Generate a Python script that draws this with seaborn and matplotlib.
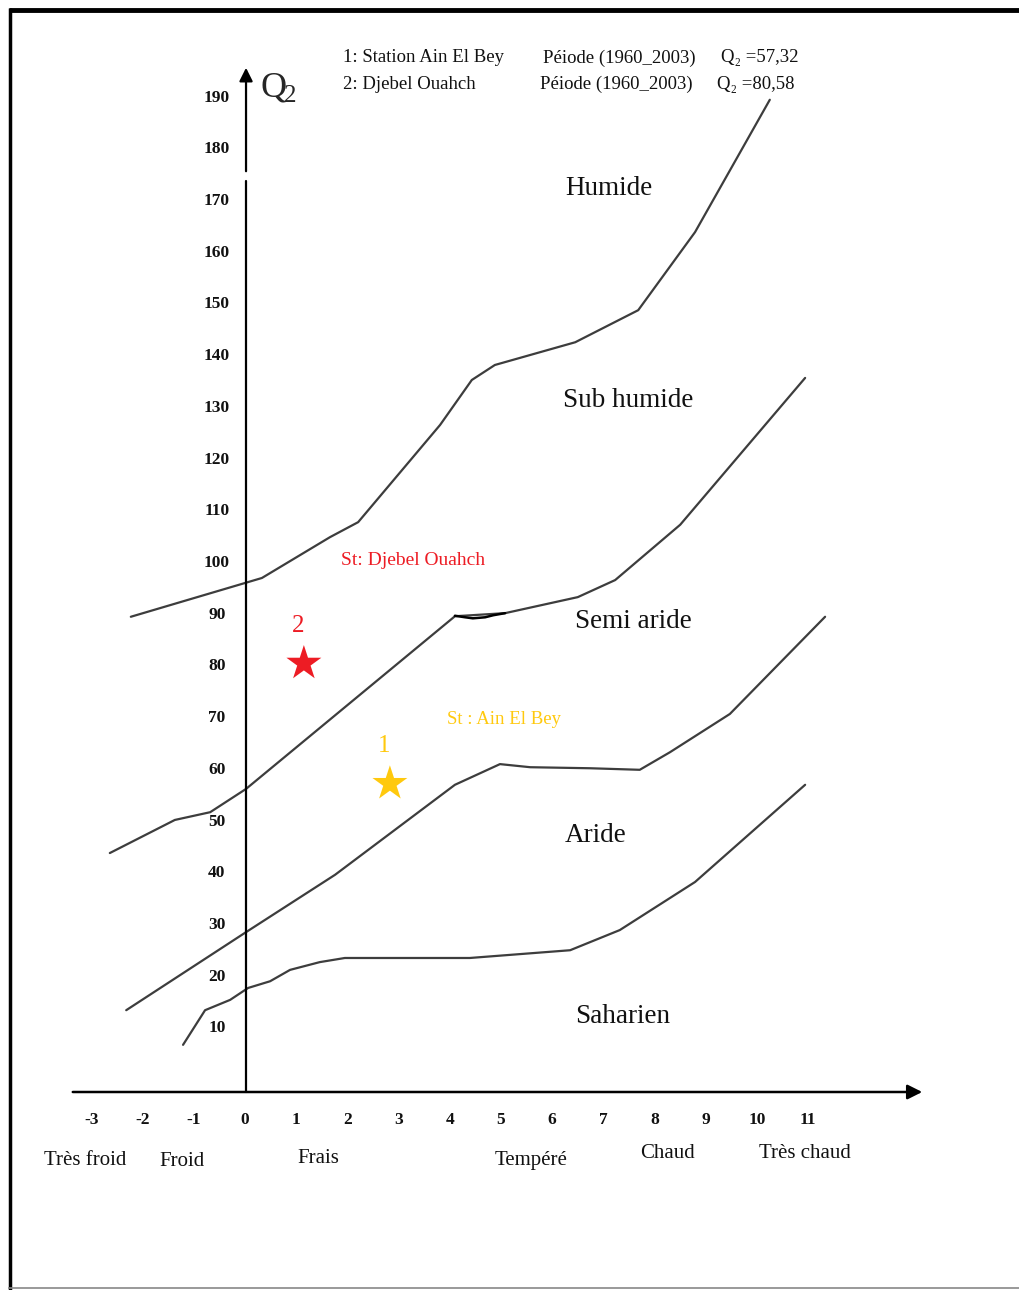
import matplotlib
matplotlib.use("Agg")
import matplotlib.pyplot as plt
from matplotlib.lines import Line2D
from matplotlib import font_manager
import pandas as pd
import seaborn as sns

# Climagramme d'Emberger : m (°C) en abscisse, Q2 en ordonnée
# Limites entre les étages bioclimatiques (m, Q2)
humide_m = [-2.23, 0.33, 1.66, 2.21, 3.81, 4.43, 4.88, 6.45, 7.68, 8.79, 10.25]
humide_q = [89.6, 97.1, 105.0, 107.9, 126.7, 135.4, 138.3, 142.7, 148.9, 164.0, 189.6]

subhumide_m = [-2.64, -1.37, -0.68, 0.02, 4.10, 5.08, 6.50, 7.23, 8.50, 10.94]
subhumide_q = [43.9, 50.3, 51.8, 56.3, 89.7, 90.3, 93.4, 96.7, 107.4, 135.8]

semiaride_m = [-2.32, 0.02, 1.76, 4.10, 4.98, 5.57, 6.74, 7.71, 8.30, 9.47, 11.33]
semiaride_q = [13.5, 28.6, 39.7, 57.1, 61.1, 60.5, 60.3, 60.0, 63.4, 70.8, 89.6]

aride_m = [-1.21, -0.78, -0.29, 0.06, 0.49, 0.88, 1.46, 1.95, 4.39, 6.35, 7.32, 8.79, 10.94]
aride_q = [6.8, 13.5, 15.5, 17.8, 19.1, 21.3, 22.8, 23.6, 23.6, 25.1, 29.0, 38.3, 57.1]

# Tronçon retracé à la main sur la limite subhumide
retouche_m = [4.10, 4.30, 4.45, 4.69, 4.85, 5.08]
retouche_q = [89.8, 89.5, 89.3, 89.5, 89.9, 90.3]

# Stations
stations = ["Ain El Bey", "Djebel Ouahch"]
station_num = ["1", "2"]
station_m = [2.83, 1.15]
station_q2 = [57.32, 80.58]
station_colors = ["#ffc90e", "#ed1c24"]

etages = ["Humide", "Sub humide", "Semi aride", "Aride", "Saharien"]
etages_m = [7.11, 7.48, 7.58, 6.84, 7.38]
etages_q = [172.5, 131.5, 88.6, 47.2, 12.2]

temp_classes = ["Très froid", "Froid", "Frais", "Tempéré", "Chaud", "Très chaud"]
temp_classes_m = [-3.12, -1.23, 1.43, 5.59, 8.26, 10.94]
temp_classes_q = [-15.5, -15.7, -15.1, -15.5, -14.3, -14.3]

x_ticks = list(range(-3, 12))
y_ticks = list(range(10, 200, 10))

limites = pd.concat([
    pd.DataFrame({"m": humide_m, "Q2": humide_q, "limite": "humide"}),
    pd.DataFrame({"m": subhumide_m, "Q2": subhumide_q, "limite": "subhumide"}),
    pd.DataFrame({"m": semiaride_m, "Q2": semiaride_q, "limite": "semiaride"}),
    pd.DataFrame({"m": aride_m, "Q2": aride_q, "limite": "aride"}),
], ignore_index=True)
pts = pd.DataFrame({"station": stations, "m": station_m, "Q2": station_q2})

sns.set_theme(style="white")
serif = ["Liberation Serif", "DejaVu Serif"]
plt.rcParams["font.family"] = serif

# Police étroite pour les graduations si disponible
installed = {f.name for f in font_manager.fontManager.ttflist}
if "Liberation Sans Narrow" in installed:
    tick_family, tick_size = ["Liberation Sans Narrow"], 13
else:
    tick_family, tick_size = ["Liberation Serif"], 12.5

fig = plt.figure(figsize=(10.2, 12.9), dpi=100)
ax = fig.add_axes([0, 0, 1, 1])
# 51.2 px par degré, 5.17 px par unité de Q2
ax.set_xlim(-245 / 51.2, (1020 - 245) / 51.2)
ax.set_ylim((1080 - 1290) / 5.17, 1080 / 5.17)
ax.axis("off")

sns.lineplot(data=limites, x="m", y="Q2", units="limite", estimator=None,
             sort=False, color="#3d3d3d", lw=1.6, ax=ax, legend=False)
ax.plot(retouche_m, retouche_q, color="black", lw=1.8)

sns.scatterplot(data=pts, x="m", y="Q2", hue="station", palette=station_colors,
                marker="*", s=700, linewidth=0, ax=ax, legend=False, zorder=5)

# Axes avec flèches
x0, x1 = (70 - 245) / 51.2, (925 - 245) / 51.2
y_axis_q = (1080 - 1092) / 5.17
ax.annotate("", xy=(x1, y_axis_q), xytext=(x0, y_axis_q),
            arrowprops=dict(arrowstyle="-|>", mutation_scale=22, lw=1.8, color="black"))
ax.plot([0.02, 0.02], [y_axis_q, (1080 - 181) / 5.17], color="black", lw=1.6)
ax.annotate("", xy=(0.02, (1080 - 65) / 5.17), xytext=(0.02, (1080 - 174) / 5.17),
            arrowprops=dict(arrowstyle="-|>", mutation_scale=20, lw=1.6, color="black"))

tick_font = dict(family=tick_family, fontweight="bold", fontsize=tick_size,
                 color="#111111", ha="center", va="center")
for q in y_ticks:
    ax.text(-0.55, q, str(q), **tick_font)
for m in x_ticks:
    ax.text(m, -7.7, str(m), **tick_font)

ax.text(0.55, 191.9, "Q", fontsize=26, family=serif, ha="center", va="center")
ax.text(0.89, 190.3, "2", fontsize=18, family=serif, ha="center", va="center")

for lab, m, q in zip(etages, etages_m, etages_q):
    ax.text(m, q, lab, fontsize=19.5, ha="center", va="center", color="#111111")

for lab, m, q in zip(temp_classes, temp_classes_m, temp_classes_q):
    ax.text(m, q, lab, fontsize=15, ha="center", va="center", color="#111111")

# Numéros et noms des stations
for num, m, q, c in zip(station_num, station_m, station_q2, station_colors):
    ax.annotate(num, xy=(m, q), xytext=(-4, 27), textcoords="offset points",
                fontsize=18, color=c, ha="center", va="center")
ax.text(3.28, 100.4, "St: Djebel Ouahch", fontsize=14, color="#ed1c24",
        ha="center", va="center")
ax.text(5.06, 69.8, "St : Ain El Bey", fontsize=13.5, color="#ffc90e",
        ha="center", va="center")

# En-tête
hdr = dict(fontsize=13.5, color="#111111", va="center", ha="left")
ax.text(1.91, 197.7, "1: Station Ain El Bey", **hdr)
ax.text(5.82, 197.7, "Péiode (1960_2003)", **hdr)
ax.text(9.30, 197.7, "Q₂ =57,32", **hdr)
ax.text(1.91, 192.6, "2: Djebel Ouahch", **hdr)
ax.text(5.76, 192.6, "Péiode (1960_2003)", **hdr)
ax.text(9.22, 192.6, "Q₂ =80,58", **hdr)

# Cadre
fig.add_artist(Line2D([9 / 1020, 1.0], [1 - 10 / 1290, 1 - 10 / 1290],
                      transform=fig.transFigure, color="black", lw=3.5,
                      solid_capstyle="butt"))
fig.add_artist(Line2D([10 / 1020, 10 / 1020], [1 - 8 / 1290, 0.0],
                      transform=fig.transFigure, color="black", lw=2.5,
                      solid_capstyle="butt"))
fig.add_artist(Line2D([8 / 1020, 1.0], [2.5 / 1290, 2.5 / 1290],
                      transform=fig.transFigure, color="#888888", lw=1.2,
                      solid_capstyle="butt"))

fig.savefig("out.png", dpi=100, facecolor="white")
